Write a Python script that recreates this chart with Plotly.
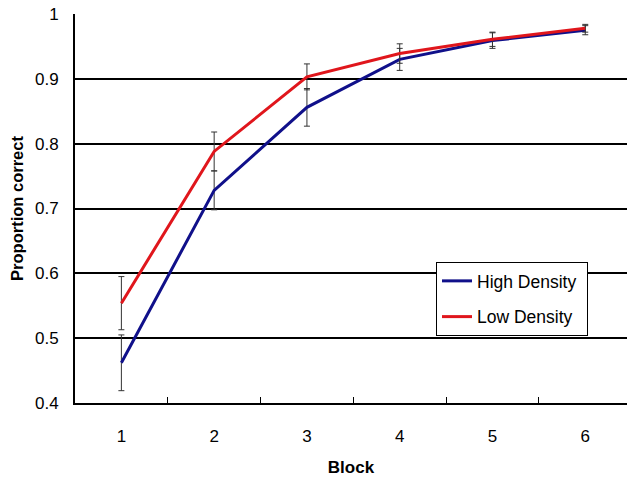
import plotly.graph_objects as go

blocks = [1, 2, 3, 4, 5, 6]
high_density = [0.462, 0.728, 0.856, 0.930, 0.959, 0.975]
high_err = [0.043, 0.030, 0.029, 0.017, 0.012, 0.007]
low_density = [0.554, 0.788, 0.903, 0.939, 0.961, 0.978]
low_err = [0.041, 0.030, 0.020, 0.015, 0.011, 0.006]
y_ticks = [0.4, 0.5, 0.6, 0.7, 0.8, 0.9, 1.0]
y_ticktext = ["0.4", "0.5", "0.6", "0.7", "0.8", "0.9", "1"]

FONT = "Liberation Sans, Arial, sans-serif"
PAD = "\u00a0"

fig = go.Figure()
fig.add_trace(go.Scatter(
    x=blocks, y=high_density, mode="lines", name="High Density" + PAD, legendgroup="h",
    line=dict(color="#10108a", width=3),
    error_y=dict(type="data", array=high_err, color="#333333", thickness=1, width=3),
))
fig.add_trace(go.Scatter(
    x=blocks, y=low_density, mode="lines", name="Low Density" + PAD, legendgroup="l",
    line=dict(color="#e0161c", width=3),
    error_y=dict(type="data", array=low_err, color="#333333", thickness=1, width=3),
))

fig.update_layout(
    width=627, height=477,
    margin=dict(l=75, r=0, t=14, b=74),
    paper_bgcolor="white", plot_bgcolor="white",
    font=dict(family=FONT, size=17, color="black"),
    showlegend=True,
    legend=dict(
        x=0.654, y=0.3625, xanchor="left", yanchor="top",
        bgcolor="white", bordercolor="black", borderwidth=1,
        font=dict(family=FONT, size=17.5, color="black"),
        itemwidth=30, tracegroupgap=10,
    ),
    xaxis=dict(
        range=[0.5, 6.45], tickvals=blocks, ticks="", showgrid=False,
        showline=True, linecolor="black", linewidth=2, zeroline=False,
        automargin=False, ticklabelstandoff=17,
        tickfont=dict(family=FONT, size=17),
        minor=dict(tickvals=[1.5, 2.5, 3.5, 4.5, 5.5], ticks="inside", ticklen=6,
                   tickcolor="black", tickwidth=1, showgrid=False),
        title=dict(text="<b>Block</b>", font=dict(family=FONT, size=17), standoff=16),
    ),
    yaxis=dict(
        range=[0.4, 1.0], tickvals=y_ticks, ticktext=y_ticktext, ticks="",
        showgrid=True, gridcolor="black", gridwidth=2,
        showline=True, linecolor="black", linewidth=2, zeroline=False,
        automargin=False, ticklabelstandoff=11,
        tickfont=dict(family=FONT, size=17),
        title=dict(text="<b>Proportion correct</b>", font=dict(family=FONT, size=16.5), standoff=7),
    ),
)

fig.write_html("out.html", config={"displayModeBar": False},
               post_script="document.body.style.margin='0';")
